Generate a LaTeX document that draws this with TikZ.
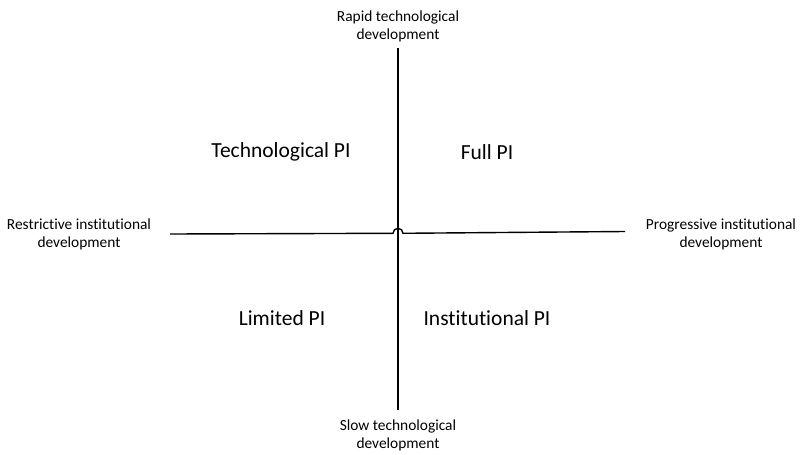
\documentclass[tikz,border=0pt]{standalone}
\usepackage{fontspec}
\setmainfont{Carlito}[Ligatures={NoCommon}]
\begin{document}
\begin{tikzpicture}[x=1pt,y=-1pt,
  axis/.style={line width=1.4pt,black},
  axlabel/.style={align=center,font=\fontsize{15.4}{18}\selectfont,inner sep=0pt},
  quad/.style={font=\fontsize{21.5}{25}\selectfont,inner sep=0pt}]
\useasboundingbox (0,0) rectangle (801,455);
\coordinate (top) at (398,48);
\coordinate (bot) at (398,410);
\coordinate (left) at (170,234);
\coordinate (right) at (625,231.5);
\coordinate (hopL) at (393,233.3);
\draw[axis] (top) -- (bot);
\draw[axis] (left) -- (hopL) arc[start angle=180,end angle=360,radius=5] -- (right);
\node[axlabel] (rapid) at (398,26) {Rapid technological\\development};
\node[axlabel] (slow) at (398,435) {Slow technological\\development};
\node[axlabel] (restr) at (79,234) {Restrictive institutional\\development};
\node[axlabel] (progr) at (721,234) {Progressive institutional\\development};
\node[quad] (tech) at (281,152) {Technological PI};
\node[quad] (full) at (487,152) {Full PI};
\node[quad] (lim) at (282,318) {Limited PI};
\node[quad] (inst) at (487,318) {Institutional PI};
\end{tikzpicture}
\end{document}
